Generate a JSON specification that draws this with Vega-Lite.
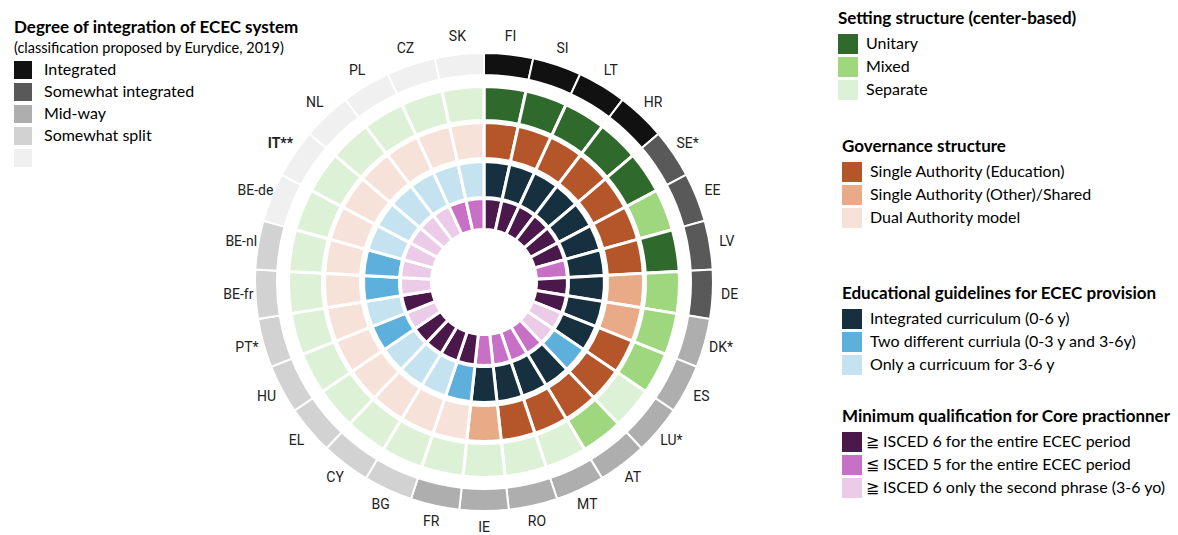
{
  "$schema": "https://vega.github.io/schema/vega-lite/v6.json",
  "width": 940,
  "height": 444,
  "autosize": {"type": "none"},
  "padding": {"left": 14, "top": 60, "right": 224, "bottom": 31},
  "background": "white",
  "title": {
    "text": "Degree of integration of ECEC system",
    "subtitle": "(classification proposed by Eurydice, 2019)",
    "anchor": "start",
    "frame": "group",
    "offset": 5,
    "dy": 50,
    "font": "Lato",
    "fontSize": 17,
    "fontWeight": "bold",
    "color": "#000000",
    "subtitleFont": "Lato",
    "subtitleFontSize": 14.5,
    "subtitleColor": "#000000",
    "subtitlePadding": 5
  },
  "data": {
    "values": [
      {"idx": 0, "country": "FI", "integration": "Integrated", "setting": "Unitary", "governance": "Single Authority (Education)", "guidelines": "Integrated curriculum (0-6 y)", "qualification": "≧ ISCED 6 for the entire ECEC period"},
      {"idx": 1, "country": "SI", "integration": "Integrated", "setting": "Unitary", "governance": "Single Authority (Education)", "guidelines": "Integrated curriculum (0-6 y)", "qualification": "≧ ISCED 6 for the entire ECEC period"},
      {"idx": 2, "country": "LT", "integration": "Integrated", "setting": "Unitary", "governance": "Single Authority (Education)", "guidelines": "Integrated curriculum (0-6 y)", "qualification": "≧ ISCED 6 for the entire ECEC period"},
      {"idx": 3, "country": "HR", "integration": "Integrated", "setting": "Unitary", "governance": "Single Authority (Education)", "guidelines": "Integrated curriculum (0-6 y)", "qualification": "≧ ISCED 6 for the entire ECEC period"},
      {"idx": 4, "country": "SE*", "integration": "Somewhat integrated", "setting": "Unitary", "governance": "Single Authority (Education)", "guidelines": "Integrated curriculum (0-6 y)", "qualification": "≧ ISCED 6 for the entire ECEC period"},
      {"idx": 5, "country": "EE", "integration": "Somewhat integrated", "setting": "Mixed", "governance": "Single Authority (Education)", "guidelines": "Integrated curriculum (0-6 y)", "qualification": "≧ ISCED 6 for the entire ECEC period"},
      {"idx": 6, "country": "LV", "integration": "Somewhat integrated", "setting": "Unitary", "governance": "Single Authority (Education)", "guidelines": "Integrated curriculum (0-6 y)", "qualification": "≦  ISCED 5  for the entire ECEC period"},
      {"idx": 7, "country": "DE", "integration": "Somewhat integrated", "setting": "Mixed", "governance": "Single Authority (Other)/Shared", "guidelines": "Integrated curriculum (0-6 y)", "qualification": "≧ ISCED 6 for the entire ECEC period"},
      {"idx": 8, "country": "DK*", "integration": "Mid-way", "setting": "Mixed", "governance": "Single Authority (Other)/Shared", "guidelines": "Integrated curriculum (0-6 y)", "qualification": "≧ ISCED 6 for the entire ECEC period"},
      {"idx": 9, "country": "ES", "integration": "Mid-way", "setting": "Mixed", "governance": "Single Authority (Education)", "guidelines": "Integrated curriculum (0-6 y)", "qualification": "≧ ISCED 6 only the second phrase (3-6 yo)"},
      {"idx": 10, "country": "LU*", "integration": "Mid-way", "setting": "Separate", "governance": "Single Authority (Education)", "guidelines": "Two different curriula (0-3 y and 3-6y)", "qualification": "≧ ISCED 6 only the second phrase (3-6 yo)"},
      {"idx": 11, "country": "AT", "integration": "Mid-way", "setting": "Mixed", "governance": "Single Authority (Education)", "guidelines": "Integrated curriculum (0-6 y)", "qualification": "≦  ISCED 5  for the entire ECEC period"},
      {"idx": 12, "country": "MT", "integration": "Mid-way", "setting": "Separate", "governance": "Single Authority (Education)", "guidelines": "Integrated curriculum (0-6 y)", "qualification": "≦  ISCED 5  for the entire ECEC period"},
      {"idx": 13, "country": "RO", "integration": "Mid-way", "setting": "Separate", "governance": "Single Authority (Education)", "guidelines": "Integrated curriculum (0-6 y)", "qualification": "≦  ISCED 5  for the entire ECEC period"},
      {"idx": 14, "country": "IE", "integration": "Mid-way", "setting": "Separate", "governance": "Single Authority (Other)/Shared", "guidelines": "Integrated curriculum (0-6 y)", "qualification": "≦  ISCED 5  for the entire ECEC period"},
      {"idx": 15, "country": "FR", "integration": "Mid-way", "setting": "Separate", "governance": "Dual Authority model", "guidelines": "Two different curriula (0-3 y and 3-6y)", "qualification": "≧ ISCED 6 for the entire ECEC period"},
      {"idx": 16, "country": "BG", "integration": "Somewhat split", "setting": "Separate", "governance": "Dual Authority model", "guidelines": "Only a curricuum for 3-6 y", "qualification": "≧ ISCED 6 for the entire ECEC period"},
      {"idx": 17, "country": "CY", "integration": "Somewhat split", "setting": "Separate", "governance": "Dual Authority model", "guidelines": "Only a curricuum for 3-6 y", "qualification": "≧ ISCED 6 for the entire ECEC period"},
      {"idx": 18, "country": "EL", "integration": "Somewhat split", "setting": "Separate", "governance": "Dual Authority model", "guidelines": "Only a curricuum for 3-6 y", "qualification": "≧ ISCED 6 for the entire ECEC period"},
      {"idx": 19, "country": "HU", "integration": "Somewhat split", "setting": "Separate", "governance": "Dual Authority model", "guidelines": "Two different curriula (0-3 y and 3-6y)", "qualification": "≧ ISCED 6 only the second phrase (3-6 yo)"},
      {"idx": 20, "country": "PT*", "integration": "Somewhat split", "setting": "Separate", "governance": "Dual Authority model", "guidelines": "Only a curricuum for 3-6 y", "qualification": "≧ ISCED 6 for the entire ECEC period"},
      {"idx": 21, "country": "BE-fr", "integration": "Somewhat split", "setting": "Separate", "governance": "Dual Authority model", "guidelines": "Two different curriula (0-3 y and 3-6y)", "qualification": "≧ ISCED 6 only the second phrase (3-6 yo)"},
      {"idx": 22, "country": "BE-nl", "integration": "Somewhat split", "setting": "Separate", "governance": "Dual Authority model", "guidelines": "Two different curriula (0-3 y and 3-6y)", "qualification": "≧ ISCED 6 only the second phrase (3-6 yo)"},
      {"idx": 23, "country": "BE-de", "integration": "Split", "setting": "Separate", "governance": "Dual Authority model", "guidelines": "Only a curricuum for 3-6 y", "qualification": "≧ ISCED 6 only the second phrase (3-6 yo)"},
      {"idx": 24, "country": "IT**", "integration": "Split", "setting": "Separate", "governance": "Dual Authority model", "guidelines": "Only a curricuum for 3-6 y", "qualification": "≧ ISCED 6 only the second phrase (3-6 yo)"},
      {"idx": 25, "country": "NL", "integration": "Split", "setting": "Separate", "governance": "Dual Authority model", "guidelines": "Only a curricuum for 3-6 y", "qualification": "≧ ISCED 6 only the second phrase (3-6 yo)"},
      {"idx": 26, "country": "PL", "integration": "Split", "setting": "Separate", "governance": "Dual Authority model", "guidelines": "Only a curricuum for 3-6 y", "qualification": "≧ ISCED 6 only the second phrase (3-6 yo)"},
      {"idx": 27, "country": "CZ", "integration": "Split", "setting": "Separate", "governance": "Dual Authority model", "guidelines": "Only a curricuum for 3-6 y", "qualification": "≦  ISCED 5  for the entire ECEC period"},
      {"idx": 28, "country": "SK", "integration": "Split", "setting": "Separate", "governance": "Dual Authority model", "guidelines": "Only a curricuum for 3-6 y", "qualification": "≦  ISCED 5  for the entire ECEC period"}
    ]
  },
  "config": {
    "view": {"stroke": null},
    "legend": {
      "padding": 0,
      "offset": 0,
      "symbolType": "square",
      "symbolStrokeWidth": 0,
      "symbolOpacity": 1,
      "labelFont": "Lato",
      "labelFontSize": 16,
      "labelColor": "#000000",
      "labelLimit": 400,
      "titleFont": "Lato",
      "titleFontSize": 17,
      "titleFontWeight": "bold",
      "titleColor": "#000000",
      "titleLimit": 400,
      "titlePadding": 6
    }
  },
  "layer": [
    {
      "mark": {"type": "arc", "outerRadius": 229, "innerRadius": 207, "stroke": "white", "strokeWidth": 2},
      "encoding": {
        "theta": {"aggregate": "count", "type": "quantitative", "stack": true},
        "order": {"field": "idx", "type": "quantitative"},
        "detail": {"field": "country", "type": "nominal"},
        "color": {
          "field": "integration",
          "type": "nominal",
          "scale": {"domain": ["Integrated", "Somewhat integrated", "Mid-way", "Somewhat split", "Split"], "range": ["#111111", "#595959", "#aeaeae", "#d2d2d2", "#f0f0f0"]},
          "legend": {"title": null, "orient": "none", "legendX": 0, "legendY": 1, "symbolSize": 324, "rowPadding": 4, "labelOffset": 12, "labelExpr": "datum.value == 'Split' ? '' : datum.label"}
        }
      }
    },
    {
      "mark": {"type": "arc", "outerRadius": 195.5, "innerRadius": 161.5, "stroke": "white", "strokeWidth": 3},
      "encoding": {
        "theta": {"aggregate": "count", "type": "quantitative", "stack": true},
        "order": {"field": "idx", "type": "quantitative"},
        "detail": {"field": "country", "type": "nominal"},
        "color": {
          "field": "setting",
          "type": "nominal",
          "scale": {"domain": ["Unitary", "Mixed", "Separate"], "range": ["#2f6a2c", "#9ed77e", "#ddf1d6"]},
          "legend": {"title": "Setting structure  (center-based)", "orient": "none", "legendX": 824, "legendY": -49, "symbolSize": 400, "rowPadding": 3, "labelOffset": 8}
        }
      }
    },
    {
      "mark": {"type": "arc", "outerRadius": 159.5, "innerRadius": 123.5, "stroke": "white", "strokeWidth": 3},
      "encoding": {
        "theta": {"aggregate": "count", "type": "quantitative", "stack": true},
        "order": {"field": "idx", "type": "quantitative"},
        "detail": {"field": "country", "type": "nominal"},
        "color": {
          "field": "governance",
          "type": "nominal",
          "scale": {"domain": ["Single Authority (Education)", "Single Authority (Other)/Shared", "Dual Authority model"], "range": ["#b4562a", "#e9aa87", "#f7e2d9"]},
          "legend": {"title": "Governance structure", "orient": "none", "legendX": 828, "legendY": 79, "symbolSize": 400, "rowPadding": 3, "labelOffset": 8}
        }
      }
    },
    {
      "mark": {"type": "arc", "outerRadius": 120.5, "innerRadius": 84.5, "stroke": "white", "strokeWidth": 3},
      "encoding": {
        "theta": {"aggregate": "count", "type": "quantitative", "stack": true},
        "order": {"field": "idx", "type": "quantitative"},
        "detail": {"field": "country", "type": "nominal"},
        "color": {
          "field": "guidelines",
          "type": "nominal",
          "scale": {"domain": ["Integrated curriculum (0-6 y)", "Two different curriula (0-3 y and 3-6y)", "Only a curricuum for 3-6 y"], "range": ["#17303f", "#5eb0dc", "#c5e2f1"]},
          "legend": {"title": "Educational guidelines for ECEC provision", "orient": "none", "legendX": 828, "legendY": 226, "symbolSize": 400, "rowPadding": 3, "labelOffset": 8}
        }
      }
    },
    {
      "mark": {"type": "arc", "outerRadius": 83.5, "innerRadius": 52.5, "stroke": "white", "strokeWidth": 3},
      "encoding": {
        "theta": {"aggregate": "count", "type": "quantitative", "stack": true},
        "order": {"field": "idx", "type": "quantitative"},
        "detail": {"field": "country", "type": "nominal"},
        "color": {
          "field": "qualification",
          "type": "nominal",
          "scale": {"domain": ["≧ ISCED 6 for the entire ECEC period", "≦  ISCED 5  for the entire ECEC period", "≧ ISCED 6 only the second phrase (3-6 yo)"], "range": ["#4a184a", "#c86fc6", "#ebcbe8"]},
          "legend": {"title": "Minimum qualification for Core practionner", "orient": "none", "legendX": 828, "legendY": 349, "symbolSize": 400, "rowPadding": 3, "labelOffset": 4}
        }
      }
    },
    {
      "mark": {"type": "text", "radius": 246, "font": "Roboto", "fontSize": 14, "color": "#222222"},
      "encoding": {
        "theta": {"aggregate": "count", "type": "quantitative", "stack": true},
        "order": {"field": "idx", "type": "quantitative"},
        "text": {"field": "country", "type": "nominal"},
        "opacity": {"condition": {"test": "datum.country == 'IT**'", "value": 0}, "value": 1}
      }
    },
    {
      "mark": {"type": "text", "radius": 246, "font": "Roboto", "fontSize": 14, "fontWeight": "bold", "color": "#222222"},
      "encoding": {
        "theta": {"aggregate": "count", "type": "quantitative", "stack": true},
        "order": {"field": "idx", "type": "quantitative"},
        "text": {"field": "country", "type": "nominal"},
        "opacity": {"condition": {"test": "datum.country == 'IT**'", "value": 1}, "value": 0}
      }
    }
  ],
  "resolve": {"scale": {"color": "independent"}}
}
